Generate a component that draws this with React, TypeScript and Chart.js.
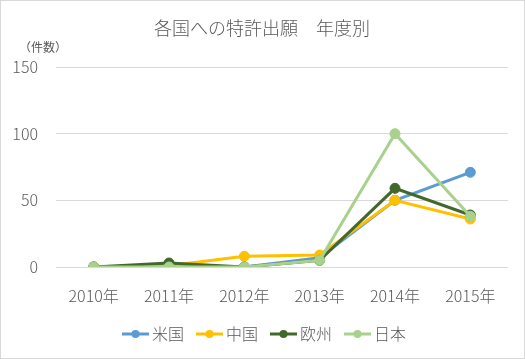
import { useEffect, useRef } from 'react';
import { Chart, registerables } from 'chart.js';

Chart.register(...registerables);

const categories = ['2010年', '2011年', '2012年', '2013年', '2014年', '2015年'];
const seriesNames = ['米国', '中国', '欧州', '日本'];
const usaValues = [0, 1, 0, 7, 50, 71];
const chinaValues = [0, 1, 8, 9, 50, 36];
const europeValues = [0, 3, 0, 5, 59, 39];
const japanValues = [0, 0, 0, 5, 100, 38];
const seriesValues = [usaValues, chinaValues, europeValues, japanValues];
const yMin = 0;
const yMax = 150;
const yStep = 50;
const titleText = '各国への特許出願　年度別';
const unitLabel = '（件数）';

const FONT = '"Noto Sans CJK JP", "Noto Sans", sans-serif';
const WEIGHT = '300';
const TEXT = '#595959';
const GRID = '#D9D9D9';
const COLORS = ['#5B9BD5', '#FFC000', '#43682B', '#A9D18E'];

export default function App() {
  const ref = useRef<HTMLCanvasElement>(null);

  useEffect(() => {
    document.body.style.margin = '0';
    const canvas = ref.current;
    if (!canvas) return;

    const decor = {
      id: 'decor',
      beforeDraw(chart: any) {
        const ctx = chart.ctx;
        ctx.save();
        ctx.fillStyle = '#FFFFFF';
        ctx.fillRect(0, 0, chart.width, chart.height);
        ctx.restore();
      },
      afterDraw(chart: any) {
        const ctx = chart.ctx;
        ctx.save();
        ctx.fillStyle = TEXT;
        ctx.font = `${WEIGHT} 18px ${FONT}`;
        ctx.textAlign = 'center';
        ctx.textBaseline = 'middle';
        ctx.fillText(titleText, 262, 28);
        ctx.font = `12px ${FONT}`;
        ctx.fillText(unitLabel, 43, 47);
        ctx.font = `${WEIGHT} 16px ${FONT}`;
        const lineW = 27;
        const gapAfterLine = 3;
        const itemGap = 12;
        const widths = seriesNames.map((n) => ctx.measureText(n).width);
        const total =
          widths.reduce((s, w) => s + lineW + gapAfterLine + w, 0) + itemGap * (seriesNames.length - 1);
        let x = 264 - total / 2;
        const y = 334;
        seriesNames.forEach((name, i) => {
          ctx.strokeStyle = COLORS[i];
          ctx.lineWidth = 3;
          ctx.beginPath();
          ctx.moveTo(x, y);
          ctx.lineTo(x + lineW, y);
          ctx.stroke();
          ctx.fillStyle = COLORS[i];
          ctx.beginPath();
          ctx.arc(x + lineW / 2, y, 4, 0, Math.PI * 2);
          ctx.fill();
          ctx.fillStyle = TEXT;
          ctx.textAlign = 'left';
          ctx.fillText(name, x + lineW + gapAfterLine, y);
          x += lineW + gapAfterLine + widths[i] + itemGap;
        });
        ctx.strokeStyle = GRID;
        ctx.lineWidth = 1;
        ctx.strokeRect(0.5, 0.5, chart.width - 1, chart.height - 1);
        ctx.restore();
      },
    };

    const chart = new Chart(canvas, {
      type: 'line',
      data: {
        labels: categories,
        datasets: seriesValues.map((vals, i) => ({
          label: seriesNames[i],
          data: vals,
          borderColor: COLORS[i],
          backgroundColor: COLORS[i],
          pointBackgroundColor: COLORS[i],
          pointBorderColor: COLORS[i],
          borderWidth: 3,
          pointRadius: 5,
          pointBorderWidth: 1,
          tension: 0,
          fill: false,
          order: seriesNames.length - i,
        })),
      },
      options: {
        animation: false,
        responsive: false,
        layout: { padding: { left: 0, right: 17, top: 67, bottom: 52 } },
        plugins: {
          legend: { display: false },
          title: { display: false },
          tooltip: { enabled: false },
        },
        scales: {
          x: {
            offset: true,
            grid: { display: false, drawTicks: false },
            border: { display: false },
            ticks: { font: { size: 16, family: FONT, weight: WEIGHT }, color: TEXT, padding: 19, maxRotation: 0 },
            afterFit(scale: any) {
              scale.height = 40;
            },
          },
          y: {
            min: yMin,
            max: yMax,
            grid: { color: GRID, drawTicks: false, lineWidth: 1 },
            border: { display: false },
            ticks: { stepSize: yStep, font: { size: 16, family: FONT, weight: WEIGHT }, color: TEXT, padding: 18 },
            afterFit(scale: any) {
              scale.width = 56;
            },
          },
        },
      },
      plugins: [decor],
    });

    return () => chart.destroy();
  }, []);

  return (
    <div style={{ width: 525, height: 359 }}>
      <canvas ref={ref} width={525} height={359} style={{ display: 'block' }} />
    </div>
  );
}
